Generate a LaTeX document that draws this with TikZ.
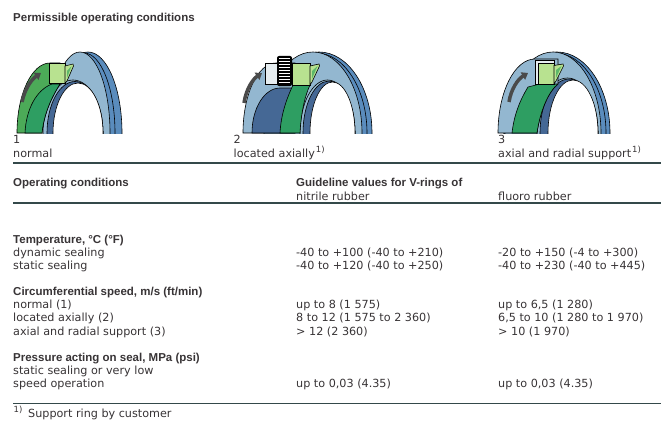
\documentclass[tikz,border=0pt]{standalone}
\usepackage{fontspec}
\setmainfont{DejaVu Sans}
\newfontfamily\hdfont{Liberation Sans}
\usetikzlibrary{arrows.meta}
\definecolor{textc}{HTML}{383436}
\definecolor{rulec}{HTML}{34494A}
\definecolor{rimblue}{HTML}{5A8CBD}
\definecolor{faceblue}{HTML}{93B7D0}
\definecolor{shaftblue}{HTML}{456895}
\definecolor{greenA}{HTML}{4CAA58}
\definecolor{greenB}{HTML}{2E9E62}
\definecolor{lightgreen}{HTML}{B8E290}
\definecolor{lipgreen}{HTML}{5DB86A}
\definecolor{arrowc}{HTML}{4A4A4A}
\definecolor{supportc}{HTML}{E6EDF0}
\newcommand{\fnmark}{\raisebox{4.5pt}{\fontsize{8.5}{9}\selectfont 1)}}
\tikzset{
  txt/.style={anchor=base west, inner sep=0pt, text=textc, font=\fontsize{11.2}{13}\selectfont},
  hdr/.style={anchor=base west, inner sep=0pt, text=textc, font=\hdfont\bfseries\fontsize{11.5}{13}\selectfont},
  rule/.style={draw=rulec, line width=2pt},
  ol/.style={draw=black, line width=0.6pt},
  arrowline/.style={draw=arrowc, line width=3.5pt, -{Triangle[length=6pt,width=8.5pt]}},
}
\begin{document}
\begin{tikzpicture}[x=1pt,y=-1pt]
\fill[white] (0,0) rectangle (661,444);
\useasboundingbox (0,0) rectangle (661,444);

\begin{scope}
\clip (0,0) rectangle (661,133.5);
% ---------- ring 1 ----------
\filldraw[rimblue, ol] (88,133) ellipse [x radius=34pt, y radius=81pt];
\draw[ol] (84,133) ellipse [x radius=31pt, y radius=80pt];
\filldraw[faceblue, ol] (80,133) ellipse [x radius=30pt, y radius=81pt];
\filldraw[faceblue, ol] (73,133) ellipse [x radius=30pt, y radius=53pt];
\filldraw[shaftblue, ol] (75,133) ellipse [x radius=28pt, y radius=51.5pt];
\filldraw[white, ol] (78,133) ellipse [x radius=25pt, y radius=50pt];
\filldraw[greenA, ol] (17,133) arc[start angle=180,end angle=90,x radius=33pt,y radius=70pt] -- (60,63) -- (60,84) .. controls (50,100) and (44,115) .. (42,133) -- cycle;
\filldraw[greenB, ol] (25,133) .. controls (26,110) and (36,90) .. (52,84) -- (60,84) .. controls (50,100) and (44,115) .. (42,133) -- cycle;
\draw[arrowline] (22,102) .. controls (25,88) and (32,79) .. (41,73);
\filldraw[lightgreen, ol] (49,63) rectangle (65,83.5);
\filldraw[lightgreen, ol] (65,66) -- (73,64) -- (73.5,66) -- (67,81) -- (65,83.5) -- cycle;
\fill[lipgreen] (67,71) -- (71.5,66) -- (67,78) -- cycle;

% ---------- ring 2 ----------
\filldraw[rimblue, ol] (319,133) ellipse [x radius=53pt, y radius=81pt];
\draw[ol] (316,133) ellipse [x radius=51pt, y radius=80pt];
\filldraw[faceblue, ol] (313,133) ellipse [x radius=49pt, y radius=81pt];
\filldraw[faceblue, ol] (327.5,133) ellipse [x radius=27.5pt, y radius=53pt];
\filldraw[shaftblue, ol] (329,133) ellipse [x radius=26pt, y radius=52pt];
\filldraw[white, ol] (332.5,133) ellipse [x radius=22.5pt, y radius=51pt];
\filldraw[faceblue, ol] (243,133) arc[start angle=180,end angle=90,x radius=33pt,y radius=70pt] -- (295,63) -- (295,133) -- cycle;
\filldraw[shaftblue, ol] (252,133) arc[start angle=180,end angle=90,x radius=28pt,y radius=45pt] -- (295,88) -- (295,133) -- cycle;
\filldraw[greenB, ol] (293,85) .. controls (286,100) and (281,115) .. (280,133) -- (300,133) .. controls (301,115) and (304,98) .. (310,85) -- cycle;
\draw[arrowline] (244,103) .. controls (246,89) and (253,79) .. (262,73);
\filldraw[supportc, ol] (265,63) rectangle (278,84);
\fill[black, rounded corners=2pt] (277,56) rectangle (292,86);
\foreach \yy in {58.5,61.5,...,84.5} \draw[white, line width=1.1pt] (279,\yy) -- (290,\yy);
\filldraw[lightgreen, ol] (292,63) rectangle (310,85);
\filldraw[lightgreen, ol] (310,66) -- (319,64) -- (319.5,66) -- (312,82) -- (310,85) -- cycle;
\fill[lipgreen] (312,71) -- (317.5,66) -- (312,79) -- cycle;

% ---------- ring 3 ----------
\filldraw[rimblue, ol] (557,133) ellipse [x radius=53pt, y radius=81pt];
\draw[ol] (555,133) ellipse [x radius=51pt, y radius=80pt];
\filldraw[faceblue, ol] (553,133) ellipse [x radius=48pt, y radius=81pt];
\filldraw[faceblue, ol] (567.5,133) ellipse [x radius=30.5pt, y radius=55pt];
\filldraw[shaftblue, ol] (569,133) ellipse [x radius=29pt, y radius=54pt];
\filldraw[white, ol] (573,133) ellipse [x radius=25pt, y radius=53pt];
\filldraw[faceblue, ol] (498,133) arc[start angle=180,end angle=90,x radius=37pt,y radius=74pt] -- (558,59) -- (558,84) .. controls (548,92) and (540,112) .. (537,133) -- cycle;
\filldraw[greenB, ol] (528,87) .. controls (520,100) and (514,115) .. (512,133) -- (537,133) .. controls (540,112) and (548,92) .. (558,84) -- (540,84) -- cycle;
\draw[arrowline] (509,102) .. controls (511,89) and (518,79) .. (528,73);
\filldraw[supportc, ol] (535,60.5) rectangle (554,84);
\filldraw[lightgreen, ol] (538.5,63.5) rectangle (554,84);
\filldraw[lightgreen, ol] (554,65.5) -- (563,64) -- (563.5,66) -- (556,81) -- (554,84) -- cycle;
\fill[lipgreen] (556,70) -- (561.5,66) -- (556,78) -- cycle;
\end{scope}

% ---------- texts ----------
\node[hdr] (title) at (13,21.7) {Permissible operating conditions};
\node[txt] (n1) at (13,143.3) {1};
\node[txt] (c1) at (13,157.3) {normal};
\node[txt] (n2) at (233.5,143.3) {2};
\node[txt] (c2) at (233.5,157.3) {located axially\kern1pt\fnmark};
\node[txt] (n3) at (498,143.3) {3};
\node[txt] (c3) at (498,157.3) {axial and radial support\kern1pt\fnmark};

\draw[rule] (13,162.5) -- (661,162.5);
\node[hdr] (oc) at (13,186.7) {Operating conditions};
\node[hdr] (gv) at (296,186.7) {Guideline values for V-rings of};
\node[txt] (nr) at (296,200) {nitrile rubber};
\node[txt] (fr) at (498,200) {fluoro rubber};
\draw[rule] (13,203.3) -- (661,203.3);

\node[hdr] (temp) at (13,243.3) {Temperature, °C (°F)};
\node[txt] (dyn) at (13,256) {dynamic sealing};
\node[txt] (sta) at (13,269.3) {static sealing};
\node[txt] (dyn1) at (296,256) {-40 to +100 (-40 to +210)};
\node[txt] (sta1) at (296,269.3) {-40 to +120 (-40 to +250)};
\node[txt] (dyn2) at (498,256) {-20 to +150 (-4 to +300)};
\node[txt] (sta2) at (498,269.3) {-40 to +230 (-40 to +445)};

\node[hdr] (circ) at (13,295) {Circumferential speed, m/s (ft/min)};
\node[txt] (s1) at (13,308.3) {normal (1)};
\node[txt] (s2) at (13,321.7) {located axially (2)};
\node[txt] (s3) at (13,335) {axial and radial support (3)};
\node[txt] (s1a) at (296,308.3) {up to 8 (1 575)};
\node[txt] (s2a) at (296,321.7) {8 to 12 (1 575 to 2 360)};
\node[txt] (s3a) at (296,335) {> 12 (2 360)};
\node[txt] (s1b) at (498,308.3) {up to 6,5 (1 280)};
\node[txt] (s2b) at (498,321.7) {6,5 to 10 (1 280 to 1 970)};
\node[txt] (s3b) at (498,335) {> 10 (1 970)};

\node[hdr] (pres) at (13,361) {Pressure acting on seal, MPa (psi)};
\node[txt] (p1) at (13,374.3) {static sealing or very low};
\node[txt] (p2) at (13,387.5) {speed operation};
\node[txt] (p2a) at (296,387.5) {up to 0,03 (4.35)};
\node[txt] (p2b) at (498,387.5) {up to 0,03 (4.35)};

\draw[rule, line width=1.4pt] (13,403.3) -- (661,403.3);
\node[txt] (fnm) at (13.5,417.3) {\fnmark};
\node[txt] (fn) at (28,417.3) {Support ring by customer};
\end{tikzpicture}
\end{document}
